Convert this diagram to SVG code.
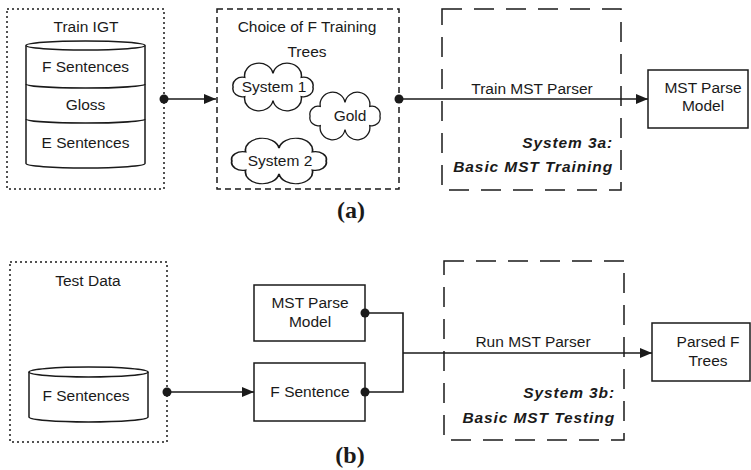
<svg xmlns="http://www.w3.org/2000/svg" xmlns:xlink="http://www.w3.org/1999/xlink" width="751" height="470" viewBox="0 0 751 470">
  <style>
    text { font-family: "Liberation Sans", Arial, sans-serif; font-size: 15.5px; fill: #1a1a1a; }
    .mid { text-anchor: middle; }
    .end { text-anchor: end; }
    .sys { font-weight: bold; font-style: italic; letter-spacing: 0.9px; }
    .cap { font-family: "Liberation Serif", "Times New Roman", serif; font-size: 24px; font-weight: bold; text-anchor: middle; }
    .box { fill: #fff; stroke: #1a1a1a; stroke-width: 1.5; }
    .dotted { fill: none; stroke: #1a1a1a; stroke-width: 1.5; stroke-dasharray: 2 3; }
    .dashed { fill: none; stroke: #1a1a1a; stroke-width: 1.5; stroke-dasharray: 6 4; }
    .longdash { fill: none; stroke: #1a1a1a; stroke-width: 1.5; stroke-dasharray: 20 12; }
    .line { fill: none; stroke: #1a1a1a; stroke-width: 1.6; }
    .cloud { fill: #fff; stroke: #1a1a1a; stroke-width: 1.4; }
    .dot { fill: #1a1a1a; }
  </style>
  <defs>
    <marker id="arrow" viewBox="0 0 12 10" refX="12" refY="5" markerWidth="12" markerHeight="10" markerUnits="userSpaceOnUse" orient="auto">
      <path d="M0,0 L12,5 L0,10 Z" fill="#1a1a1a"/>
    </marker>
    <!-- eight-puff cloud outline centred on the origin -->
    <path id="cloudShape" d="M38,0 A9,9 0 0 1 26.9,10.6 A13.5,13.5 0 0 1 0,15 A13.5,13.5 0 0 1 -26.9,10.6 A9,9 0 0 1 -38,0 A9,9 0 0 1 -26.9,-10.6 A13.5,13.5 0 0 1 0,-15 A13.5,13.5 0 0 1 26.9,-10.6 A9,9 0 0 1 38,0 Z"/>
  </defs>

  <!-- (a) training -->
  <g id="train-igt">
    <rect class="dotted" x="7" y="9" width="157" height="180"/>
    <text class="mid" x="86" y="32">Train IGT</text>
    <path class="box" d="M26,45.5 V163.5 A59.5,4.5 0 0 0 145,163.5 V45.5"/>
    <ellipse class="box" cx="85.5" cy="45.5" rx="59.5" ry="4.5"/>
    <path class="line" d="M26,84 A59.5,4 0 0 0 145,84"/>
    <path class="line" d="M26,119 A59.5,4 0 0 0 145,119"/>
    <text class="mid" x="85.5" y="72">F Sentences</text>
    <text class="mid" x="85.5" y="110">Gloss</text>
    <text class="mid" x="85.5" y="148">E Sentences</text>
  </g>

  <g id="choice-trees">
    <rect class="dashed" x="217" y="9" width="182" height="180"/>
    <text class="mid" x="307" y="32">Choice of F Training</text>
    <text class="mid" x="307" y="57">Trees</text>
    <g id="cloud-system1">
      <use xlink:href="#cloudShape" class="cloud" vector-effect="non-scaling-stroke" transform="translate(273,87) scale(1.05,0.9)"/>
      <text class="mid" x="274" y="92">System 1</text>
    </g>
    <g id="cloud-gold">
      <use xlink:href="#cloudShape" class="cloud" vector-effect="non-scaling-stroke" transform="translate(345,116) scale(0.92,0.9)"/>
      <text class="mid" x="350" y="121">Gold</text>
    </g>
    <g id="cloud-system2">
      <use xlink:href="#cloudShape" class="cloud" vector-effect="non-scaling-stroke" transform="translate(279,161) scale(1.24,0.86)"/>
      <text class="mid" x="280" y="166">System 2</text>
    </g>
  </g>

  <g id="system-3a">
    <rect class="longdash" x="442" y="9" width="179" height="181"/>
    <text class="end sys" x="613" y="148">System 3a:</text>
    <text class="end sys" x="613" y="172">Basic MST Training</text>
  </g>

  <g id="mst-model-a">
    <rect class="box" x="648" y="70" width="100" height="58"/>
    <text class="mid" x="703" y="93">MST Parse</text>
    <text class="mid" x="703" y="111">Model</text>
  </g>

  <text class="cap" x="351" y="218">(a)</text>

  <!-- (b) testing -->
  <g id="test-data">
    <rect class="dotted" x="10" y="262" width="157" height="180"/>
    <text class="mid" x="88" y="286">Test Data</text>
    <path class="box" d="M29,372 V417 A59.5,5 0 0 0 148,417 V372"/>
    <ellipse class="box" cx="88.5" cy="372" rx="59.5" ry="5"/>
    <text class="mid" x="86" y="401">F Sentences</text>
  </g>

  <g id="mst-model-b">
    <rect class="box" x="254" y="285" width="111" height="56"/>
    <text class="mid" x="310" y="308">MST Parse</text>
    <text class="mid" x="310" y="327">Model</text>
  </g>

  <g id="f-sentence">
    <rect class="box" x="254" y="363" width="111" height="58"/>
    <text class="mid" x="310" y="397">F Sentence</text>
  </g>

  <g id="system-3b">
    <rect class="longdash" x="444" y="261" width="180" height="179"/>
    <text class="end sys" x="615" y="398">System 3b:</text>
    <text class="end sys" x="615" y="423">Basic MST Testing</text>
  </g>

  <g id="parsed-trees">
    <rect class="box" x="652" y="323" width="98" height="58"/>
    <text class="mid" x="708" y="347">Parsed F</text>
    <text class="mid" x="708" y="366">Trees</text>
  </g>

  <text class="cap" x="350" y="463">(b)</text>

  <g id="connectors">
    <line class="line" x1="164" y1="99" x2="216" y2="99" marker-end="url(#arrow)"/>
    <circle class="dot" cx="164" cy="99" r="4.5"/>
    <line class="line" x1="399" y1="99" x2="648" y2="99" marker-end="url(#arrow)"/>
    <circle class="dot" cx="399" cy="99" r="4.5"/>
    <text class="mid" x="532" y="94">Train MST Parser</text>

    <line class="line" x1="167" y1="392" x2="254" y2="392" marker-end="url(#arrow)"/>
    <circle class="dot" cx="167" cy="392" r="4.5"/>
    <path class="line" d="M365,313 H403 V392 H365"/>
    <line class="line" x1="403" y1="353" x2="652" y2="353" marker-end="url(#arrow)"/>
    <circle class="dot" cx="365" cy="313" r="4.5"/>
    <circle class="dot" cx="365" cy="392" r="4.5"/>
    <text class="mid" x="533" y="347">Run MST Parser</text>
  </g>
</svg>
